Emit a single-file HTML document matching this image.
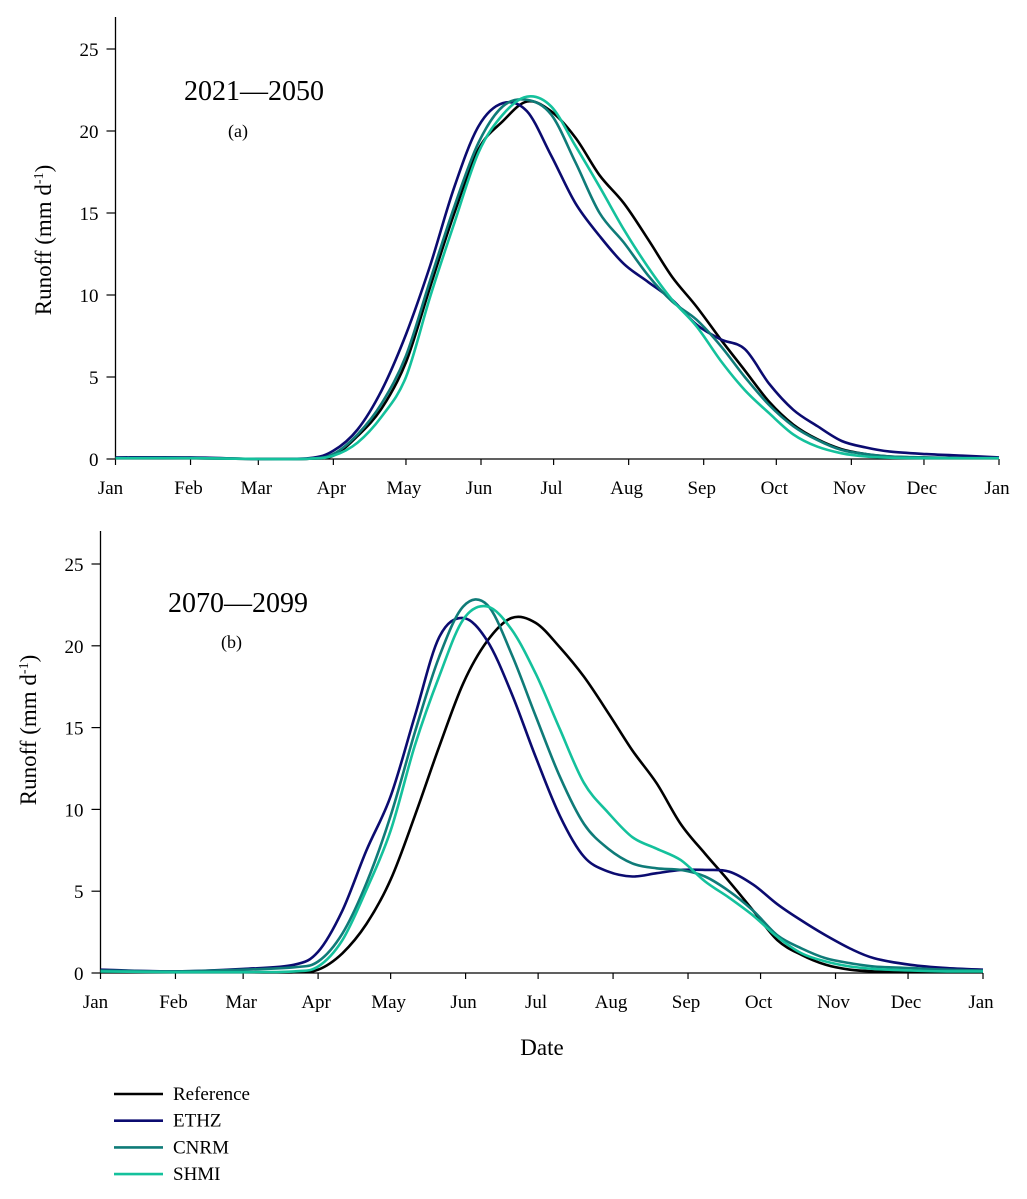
<!DOCTYPE html>
<html><head><meta charset="utf-8"><style>
body{margin:0;background:#fff;}
svg{display:block;font-family:"Liberation Serif",serif;}
</style></head><body>
<svg id="chart" width="1027" height="1199" viewBox="0 0 1027 1199" xmlns="http://www.w3.org/2000/svg">
<g id="pa"></g>
<g id="pb"></g>
<text x="184" y="100" font-size="28">2021—2050</text>
<text x="228" y="137" font-size="18">(a)</text>
<text x="168" y="612" font-size="28">2070—2099</text>
<text x="221" y="648" font-size="18">(b)</text>
<text transform="translate(51,240) rotate(-90)" text-anchor="middle" font-size="23">Runoff (mm d<tspan font-size="14" dy="-8">-1</tspan><tspan dy="8">)</tspan></text>
<text transform="translate(36,730) rotate(-90)" text-anchor="middle" font-size="23">Runoff (mm d<tspan font-size="14" dy="-8">-1</tspan><tspan dy="8">)</tspan></text>
<text x="542" y="1055" text-anchor="middle" font-size="23">Date</text>
<g id="legend"></g>
</svg>
<script>
const days = [0,31,59,80,90,100,110,120,130,140,150,160,170,180,190,200,210,220,230,240,250,260,270,280,290,300,310,320,335,350,365];
const monthLabels = ["Jan","Feb","Mar","Apr","May","Jun","Jul","Aug","Sep","Oct","Nov","Dec","Jan"];
const monthDays = [0,31,59,90,120,151,181,212,243,273,304,334,365];
const yTicks = [0,5,10,15,20,25];
const seriesNames = ["Reference","ETHZ","CNRM","SHMI"];
const seriesColors = ["#000000","#0b0b70","#0f7b78","#14c19c"];
const aRef  = [0.05,0.05,0,0.02,0.2,1.4,3.1,5.9,10.5,15.0,18.9,20.6,21.8,21.2,19.6,17.3,15.6,13.4,11.1,9.3,7.3,5.4,3.5,2.1,1.2,0.6,0.3,0.15,0.08,0.05,0.05];
const aEthz = [0.1,0.1,0,0.05,0.5,1.8,4.2,7.6,11.8,16.6,20.3,21.7,21.2,18.5,15.6,13.6,11.9,10.8,9.7,8.2,7.3,6.7,4.6,3.0,2.0,1.1,0.7,0.45,0.3,0.2,0.1];
const aCnrm = [0.05,0.05,0,0.02,0.3,1.5,3.4,6.3,10.9,15.4,19.3,21.5,21.9,21.0,18.1,15.0,13.2,11.2,9.6,8.5,6.9,5.0,3.3,2.0,1.15,0.55,0.3,0.15,0.1,0.05,0.05];
const aShmi = [0.05,0.05,0,0.02,0.2,1.0,2.6,5.0,9.9,14.4,18.7,21.0,22.1,21.5,19.1,16.6,14.0,11.7,9.7,8.1,6.0,4.2,2.8,1.5,0.75,0.35,0.15,0.08,0.05,0.05,0.05];
const bRef  = [0.05,0.05,0.05,0.05,0.2,1.2,3.0,5.7,9.6,13.8,17.7,20.3,21.7,21.4,19.9,18.1,15.9,13.6,11.6,9.1,7.3,5.6,3.8,2.0,1.1,0.5,0.2,0.1,0.05,0.05,0.05];
const bEthz = [0.2,0.1,0.25,0.5,1.3,3.8,7.5,10.8,15.7,20.5,21.7,20.3,17.1,13.2,9.6,7.1,6.2,5.9,6.1,6.3,6.3,6.2,5.4,4.2,3.2,2.3,1.5,0.9,0.5,0.3,0.2];
const bCnrm = [0.15,0.1,0.2,0.35,0.7,2.4,5.5,9.6,14.7,19.3,22.4,22.5,19.5,15.7,12.0,9.1,7.6,6.7,6.4,6.3,5.9,5.0,3.8,2.3,1.5,0.9,0.6,0.4,0.3,0.2,0.15];
const bShmi = [0.1,0.05,0.05,0.1,0.4,2.0,5.1,8.7,13.9,18.1,21.6,22.4,21.0,18.3,14.9,11.6,9.8,8.3,7.6,6.9,5.6,4.6,3.5,2.2,1.2,0.7,0.4,0.25,0.15,0.1,0.1];

const NS="http://www.w3.org/2000/svg";
function mk(tag,attrs,parent){const e=document.createElementNS(NS,tag);for(const k in attrs)e.setAttribute(k,attrs[k]);parent.appendChild(e);return e;}
function smoothPath(p){
  let d='M'+p[0][0].toFixed(1)+','+p[0][1].toFixed(1);
  for(let i=0;i<p.length-1;i++){
    const p0=p[Math.max(0,i-1)],p1=p[i],p2=p[i+1],p3=p[Math.min(p.length-1,i+2)];
    const t=6;
    const c1x=p1[0]+(p2[0]-p0[0])/t,c1y=p1[1]+(p2[1]-p0[1])/t;
    const c2x=p2[0]-(p3[0]-p1[0])/t,c2y=p2[1]-(p3[1]-p1[1])/t;
    d+=' C'+c1x.toFixed(1)+','+c1y.toFixed(1)+' '+c2x.toFixed(1)+','+c2y.toFixed(1)+' '+p2[0].toFixed(1)+','+p2[1].toFixed(1);
  }
  return d;
}
function drawPanel(g, x0, x1, y0, yTop, y25, series, id){
  const xs=d=>x0+(x1-x0)*d/365;
  const ys=v=>y0-(y0-y25)*v/25;
  let e;
  e=mk('line',{x1:x0,y1:yTop,x2:x0,y2:y0,stroke:'#000','stroke-width':1.3},g);
  
  
  e=mk('line',{x1:x0,y1:y0,x2:x1,y2:y0,stroke:'#000','stroke-width':1.3},g);
  
  
  yTicks.forEach(v=>{
    const y=ys(v);
    mk('line',{x1:x0-9,y1:y,x2:x0,y2:y,stroke:'#000','stroke-width':1.2},g);
    e=mk('text',{x:x0-17,y:y+7,'text-anchor':'end','font-size':19},g);
    e.textContent=v;
    
    
  });
  monthDays.forEach((d,i)=>{
    const x=xs(d);
    mk('line',{x1:x,y1:y0,x2:x,y2:y0+6,stroke:'#000','stroke-width':1.2},g);
    e=mk('text',{x:i==0?x-5:x-2,y:y0+35,'text-anchor':'middle','font-size':19},g);
    e.textContent=monthLabels[i];
    
    
  });
  series.forEach((vals,si)=>{
    const pts=days.map((d,i)=>[xs(d),ys(vals[i])]);
    e=mk('path',{d:smoothPath(pts),fill:'none',stroke:seriesColors[si],'stroke-width':2.6,'stroke-linejoin':'round'},g);
    
    
  });
}
drawPanel(document.getElementById('pa'),115.5,999,459,17,49,[aRef,aEthz,aCnrm,aShmi],'a');
drawPanel(document.getElementById('pb'),100.5,983,973,531,564,[bRef,bEthz,bCnrm,bShmi],'b');

const lg=document.getElementById('legend');
seriesNames.forEach((n,i)=>{
  const y=1094+i*26.7;
  let e=mk('line',{x1:114,y1:y,x2:163,y2:y,stroke:seriesColors[i],'stroke-width':2.6},lg);
  
  
  e=mk('text',{x:173,y:y+6,'font-size':19},lg);
  e.textContent=n;
  
  
});
</script>
</body></html>
